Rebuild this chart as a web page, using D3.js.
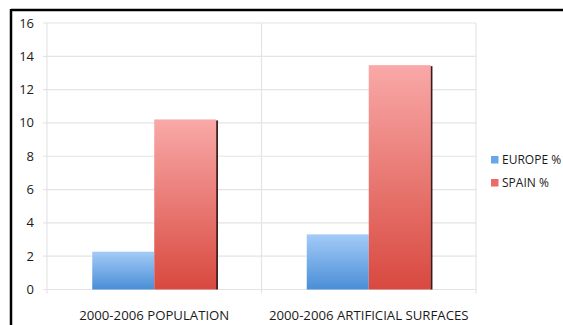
<!DOCTYPE html>
<html>
<head>
<meta charset="utf-8">
<script src="https://cdn.jsdelivr.net/npm/d3@7"></script>
<style>
  html, body { margin: 0; padding: 0; background: #fff; }
  svg { display: block; }
  text { font-family: "Open Sans", "Noto Sans", sans-serif; fill: #1a1a1a; }
</style>
</head>
<body>
<svg id="chart" width="563" height="325"></svg>
<script>
const categories = ["2000-2006 POPULATION", "2000-2006 ARTIFICIAL SURFACES"];
const seriesNames = ["EUROPE %", "SPAIN %"];
const europeValues = [2.27, 3.31];
const spainValues = [10.21, 13.47];
const yTicks = [0, 2, 4, 6, 8, 10, 12, 14, 16];

const svg = d3.select("#chart");
const W = 563, H = 325;
const plot = { left: 47, right: 476, top: 23, bottom: 289.5 };

// frame: top and left edges only
svg.append("line").attr("x1", 11).attr("x2", W).attr("y1", 10).attr("y2", 10)
  .attr("stroke", "#000").attr("stroke-width", 2.5);
svg.append("line").attr("x1", 11).attr("x2", 11).attr("y1", 9).attr("y2", H)
  .attr("stroke", "#000").attr("stroke-width", 2.5);

const x0 = d3.scaleBand().domain(categories).range([plot.left, plot.right]);
const x1 = d3.scaleBand().domain(seriesNames).range([0, 124]);
const y = d3.scaleLinear().domain([0, 16]).range([plot.bottom, plot.top]);

const defs = svg.append("defs");
const grads = [
  { id: "gEurope", top: "#a3cbf8", bottom: "#4a8ed6" },
  { id: "gSpain", top: "#f9a9a8", bottom: "#d8493f" }
];
grads.forEach(g => {
  const lg = defs.append("linearGradient").attr("id", g.id)
    .attr("x1", 0).attr("y1", 0).attr("x2", 0).attr("y2", 1);
  lg.append("stop").attr("offset", "0%").attr("stop-color", g.top);
  lg.append("stop").attr("offset", "100%").attr("stop-color", g.bottom);
});

// horizontal gridlines
svg.append("g").selectAll("line").data(yTicks).join("line")
  .attr("x1", plot.left - 4).attr("x2", plot.right)
  .attr("y1", d => y(d)).attr("y2", d => y(d))
  .attr("stroke", "#e4e4e4").attr("stroke-width", 1.2);

// vertical category separators
const vx = [plot.left, x0(categories[1]), plot.right];
svg.append("g").selectAll("line").data(vx).join("line")
  .attr("x1", d => d).attr("x2", d => d)
  .attr("y1", plot.top).attr("y2", plot.bottom + 4)
  .attr("stroke", "#e4e4e4").attr("stroke-width", 1.2);

// y tick labels
svg.append("g").selectAll("text").data(yTicks).join("text")
  .attr("x", 34).attr("y", d => y(d)).attr("dy", "0.35em")
  .attr("text-anchor", "end").attr("font-size", 13).text(d => d);

// bars
const rows = categories.map((c, i) => ({ c, vals: [europeValues[i], spainValues[i]] }));
const groups = svg.append("g").selectAll("g").data(rows).join("g")
  .attr("transform", d => `translate(${x0(d.c) + x0.bandwidth() / 2 - 62},0)`);

groups.each(function (d) {
  const g = d3.select(this);
  // shadow on the right edge of the taller bar
  g.append("rect")
    .attr("x", x1(seriesNames[1]) + x1.bandwidth() - 0.5)
    .attr("y", y(d.vals[1]) + 1)
    .attr("width", 2.2)
    .attr("height", plot.bottom - y(d.vals[1]) - 1)
    .attr("fill", "#3a1a1a");
  d.vals.forEach((v, k) => {
    g.append("rect")
      .attr("x", x1(seriesNames[k]))
      .attr("y", y(v))
      .attr("width", x1.bandwidth())
      .attr("height", plot.bottom - y(v))
      .attr("fill", `url(#${grads[k].id})`);
  });
});

// category labels
svg.append("g").selectAll("text").data(categories).join("text")
  .attr("x", d => x0(d) + x0.bandwidth() / 2).attr("y", 315)
  .attr("dy", "0.35em").attr("text-anchor", "middle").attr("font-size", 13.2)
  .text(d => d);

// legend
const legend = svg.append("g");
seriesNames.forEach((n, k) => {
  const ly = 160 + k * 23;
  legend.append("rect").attr("x", 491).attr("y", ly - 4).attr("width", 7.5).attr("height", 7.5)
    .attr("fill", k === 0 ? "#6aa5e8" : "#ec6b68");
  legend.append("text").attr("x", 502).attr("y", ly).attr("dy", "0.35em")
    .attr("font-size", 12).text(n);
});
</script>
</body>
</html>
